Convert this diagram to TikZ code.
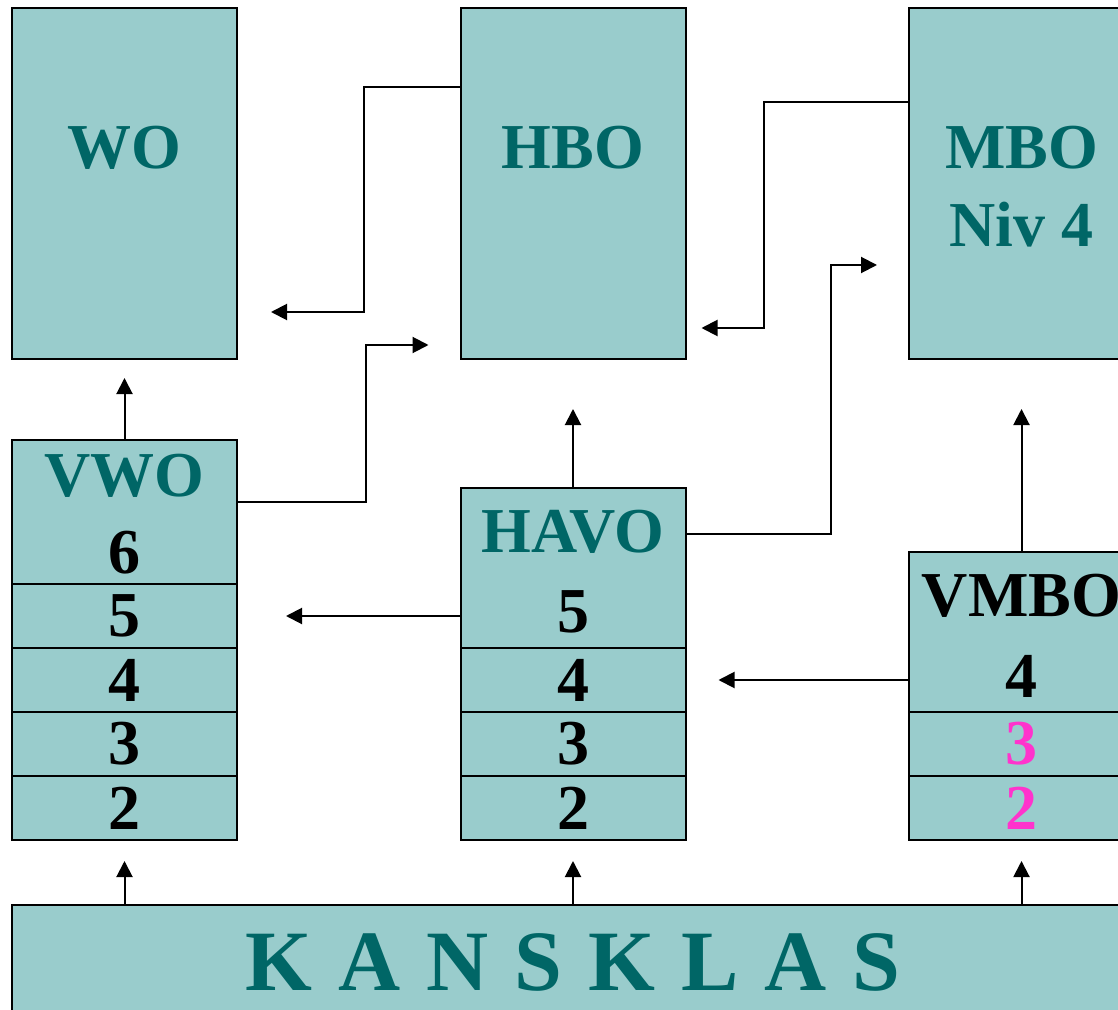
\documentclass[tikz,border=0pt]{standalone}
\usepackage{fontspec}
\setmainfont{Liberation Serif}
\usetikzlibrary{arrows.meta}
\definecolor{boxfill}{HTML}{99CCCC}
\definecolor{tealtext}{HTML}{006666}
\definecolor{pinktext}{HTML}{FF33CC}

\begin{document}
\begin{tikzpicture}[x=0.5pt, y=-0.5pt, >={Triangle[length=8pt,width=8pt]},
    box/.style={draw, line width=1pt, fill=boxfill, minimum width=112.5pt, inner sep=0pt},
    title/.style={text=tealtext, font=\fontsize{32}{32}\selectfont\bfseries, inner sep=0pt},
    num/.style={font=\fontsize{32}{32}\selectfont\bfseries},
    arr/.style={->, line width=1pt}]
\useasboundingbox (0,0) rectangle (1118,1010);
\clip (0,0) rectangle (1118,1010);

% Higher education
\node [box, minimum height=175.5pt] (wo) at (124.5,183.5) {};
\node [box, minimum height=175.5pt] (hbo) at (573,183.5) {};
\node [box, minimum height=175.5pt] (mbo) at (1021.5,183.5) {};
\node [title] (wo-text) at (124.5,148) {WO};
\node [title] (hbo-text) at (573,148) {HBO};
\node [title] (mbo-text) at (1021.5,148) {MBO};
\node [title] (niv-text) at (1021.5,225) {Niv 4};

% VWO column
\node [box, minimum height=72pt] (vwo6) at (124.5,512) {};
\node [title] (vwo-text) at (124.5,476) {VWO};
\node [num, inner sep=0pt] (vwo6-text) at (124.5,553) {6};
\node [box, num, minimum height=32pt] (vwo5) at (124.5,616) {5};
\node [box, num, minimum height=32pt] (vwo4) at (124.5,680) {4};
\node [box, num, minimum height=32pt] (vwo3) at (124.5,744) {3};
\node [box, num, minimum height=32pt] (vwo2) at (124.5,808) {2};

% HAVO column
\node [box, minimum height=80pt] (havo5) at (573,568) {};
\node [title] (havo-text) at (573,532) {HAVO};
\node [num, inner sep=0pt] (havo5-text) at (573,612) {5};
\node [box, num, minimum height=32pt] (havo4) at (573,680) {4};
\node [box, num, minimum height=32pt] (havo3) at (573,744) {3};
\node [box, num, minimum height=32pt] (havo2) at (573,808) {2};

% VMBO column
\node [box, minimum height=80pt] (vmbo4) at (1021.5,632) {};
\node [num, inner sep=0pt] (vmbo-text) at (1021.5,596) {VMBO};
\node [num, inner sep=0pt] (vmbo4-text) at (1021.5,676) {4};
\node [box, num, text=pinktext, minimum height=32pt] (vmbo3) at (1021.5,744) {3};
\node [box, num, text=pinktext, minimum height=32pt] (vmbo2) at (1021.5,808) {2};

% Bridge class
\node [box, minimum width=561pt, minimum height=57.5pt, text=tealtext,
    font=\fontsize{43}{43}\selectfont\bfseries] (kans) at (573,962.5) {\spaceskip=13pt\relax K A N S K L A S};

% Vertical arrows
\draw [arr, shorten >=9pt] (vwo6.north) -- (wo.south);
\draw [arr, shorten >=24.5pt] (havo5.north) -- (hbo.south);
\draw [arr, shorten >=24.5pt] (vmbo4.north) -- (mbo.south);
\draw [arr, shorten >=10pt] (vwo2.south |- kans.north) -- (vwo2.south);
\draw [arr, shorten >=10pt] (havo2.south |- kans.north) -- (havo2.south);
\draw [arr, shorten >=10pt] (vmbo2.south |- kans.north) -- (vmbo2.south);

% Side steps
\draw [arr] ([yshift=-40pt]hbo.north west) -- ++(-96,0) |- ([xshift=16.5pt,yshift=24pt]wo.south east);
\draw [arr] ([yshift=-31.5pt]vwo6.north east) -- ++(128,0) |- ([xshift=-15.5pt,yshift=7.5pt]hbo.south west);
\draw [arr] ([yshift=-47.5pt]mbo.north west) -- ++(-144,0) |- ([xshift=7.5pt,yshift=16pt]hbo.south east);
\draw [arr] ([yshift=-23.5pt]havo5.north east) -- ++(144,0) |- ([xshift=-15.5pt,yshift=47.5pt]mbo.south west);
\draw [arr, shorten >=24pt] (havo5.west |- vwo5) -- (vwo5.east);
\draw [arr, shorten >=16pt] (vmbo4.west |- havo4) -- (havo4.east);
\end{tikzpicture}
\end{document}
